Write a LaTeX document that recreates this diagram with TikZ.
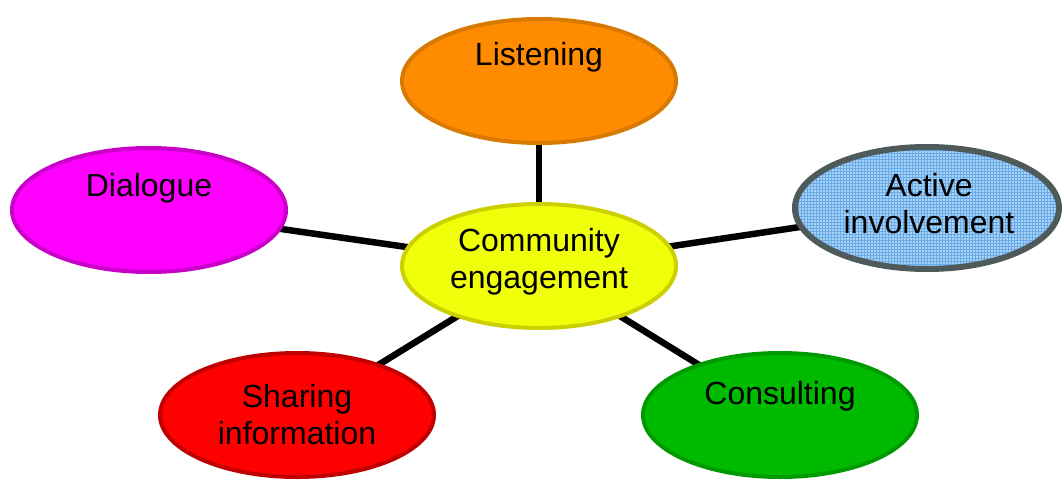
\documentclass[tikz,border=0pt]{standalone}
\usepackage{fontspec}
\setmainfont{Liberation Sans}
\usetikzlibrary{shapes.geometric,backgrounds,patterns}
\definecolor{lisfill}{HTML}{FF8C00}\definecolor{lisdraw}{HTML}{D97A00}
\definecolor{diafill}{HTML}{FF00FF}\definecolor{diadraw}{HTML}{C800C8}
\definecolor{cenfill}{HTML}{F0FF0A}\definecolor{cendraw}{HTML}{CCD000}
\definecolor{actfill}{HTML}{A8D4F8}\definecolor{actgrid}{HTML}{6AAAE6}\definecolor{actdraw}{HTML}{4F5A5A}
\definecolor{shafill}{HTML}{FF0000}\definecolor{shadraw}{HTML}{C00000}
\definecolor{confill}{HTML}{00BA00}\definecolor{condraw}{HTML}{009A00}
\tikzset{
  bubble/.style={ellipse, line width=4pt, minimum width=274pt, minimum height=124pt, inner sep=0pt},
  lbl/.style={font=\fontsize{32}{37}\selectfont, align=center, inner sep=0pt, text=black},
  link/.style={line width=6.5pt, black}
}
\begin{document}
\begin{tikzpicture}[x=1pt,y=1pt]
\useasboundingbox (0,0) rectangle (1064,480);
\node[bubble, fill=lisfill, draw=lisdraw] (lis) at (539,399) {};
\node[bubble, fill=diafill, draw=diadraw] (dia) at (149,270) {};
\node[bubble, fill=cenfill, draw=cendraw] (cen) at (539,214) {};
\node[bubble, line width=6pt, minimum width=264pt, minimum height=122pt,
      preaction={fill=actfill}, pattern=grid, pattern color=actgrid, draw=actdraw] (act) at (927,272) {};
\node[bubble, fill=shafill, draw=shadraw] (sha) at (297,65) {};
\node[bubble, fill=confill, draw=condraw] (con) at (780,65) {};

\node[lbl] (lis-t) at (539,423) {Listening};
\node[lbl] (dia-t) at (149,292) {Dialogue};
\node[lbl] (cen-t) at (539,218) {Community\\engagement};
\node[lbl] (act-t) at (929,276) {Active\\involvement};
\node[lbl] (sha-t) at (297,65) {Sharing\\information};
\node[lbl] (con-t) at (780,84) {Consulting};

\begin{pgfonlayer}{background}
\draw[link] (cen.center) -- (lis.center);
\draw[link] (cen.center) -- (dia.center);
\draw[link] (cen.center) -- (act.center);
\draw[link] (cen.center) -- (sha.center);
\draw[link] (cen.center) -- (con.center);
\end{pgfonlayer}
\end{tikzpicture}
\end{document}
